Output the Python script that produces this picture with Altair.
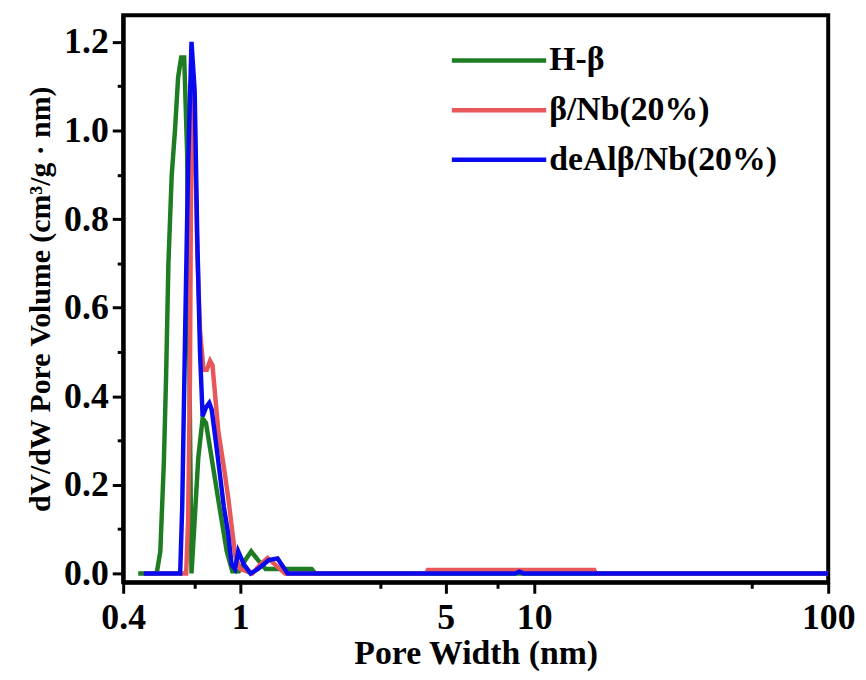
import altair as alt
import pandas as pd

names = ["H-β", "β/Nb(20%)", "deAlβ/Nb(20%)"]
colors = ["#1e7d22", "#e8575a", "#0a0aee"]

h_w = [0.45, 0.52, 0.535, 0.55, 0.56, 0.57, 0.585, 0.60, 0.615, 0.63, 0.645, 0.66, 0.67, 0.683,
       0.70, 0.72, 0.745, 0.765, 0.80, 0.85, 0.90, 0.94, 0.99, 1.04, 1.09, 1.15, 1.22, 1.75, 1.8, 100]
h_v = [0.0, 0.0, 0.05, 0.25, 0.45, 0.70, 0.90, 1.0, 1.12, 1.165, 1.165, 0.95, 0.55, 0.0,
       0.12, 0.26, 0.35, 0.34, 0.26, 0.15, 0.05, 0.005, 0.005, 0.03, 0.05, 0.03, 0.01, 0.01, 0.0, 0.0]

r_w = [0.47, 0.655, 0.665, 0.675, 0.683, 0.70, 0.715, 0.73, 0.75, 0.77, 0.79, 0.805, 0.843, 0.88,
       0.911, 0.962, 1.0, 1.1, 1.17, 1.24, 1.42, 4.3, 4.35, 16.0, 16.2, 100]
r_v = [0.0, 0.0, 0.12, 0.45, 1.1, 1.0, 0.72, 0.55, 0.46, 0.46, 0.48, 0.47, 0.32, 0.24,
       0.17, 0.04, 0.01, 0.0, 0.02, 0.035, 0.0, 0.0, 0.008, 0.008, 0.0, 0.0]

b_w = [0.47, 0.625, 0.635, 0.65, 0.665, 0.683, 0.70, 0.715, 0.73, 0.745, 0.765, 0.785, 0.80, 0.84,
       0.88, 0.91, 0.935, 0.96, 0.985, 1.03, 1.085, 1.15, 1.25, 1.34, 1.45, 8.6, 8.9, 9.2, 100]
b_v = [0.0, 0.0, 0.15, 0.55, 0.92, 1.2, 1.09, 0.75, 0.5, 0.355, 0.375, 0.385, 0.37, 0.26,
       0.15, 0.09, 0.02, 0.01, 0.05, 0.02, 0.0, 0.01, 0.03, 0.034, 0.0, 0.0, 0.004, 0.0, 0.0]

x_ticks = [0.4, 0.7, 1, 3, 5, 7.5, 10, 55, 100]
x_labels = [0.4, 1, 5, 10, 100]
y_ticks = [round(i * 0.1, 1) for i in range(13)]

frames = []
for name, ws, vs in zip(names, [h_w, r_w, b_w], [h_v, r_v, b_v]):
    frames.append(pd.DataFrame({"w": ws, "v": vs, "s": name}))
df = pd.concat(frames, ignore_index=True)

FONT = "Times New Roman, Liberation Serif, serif"

lbl_test = " || ".join(f"datum.value == {v}" for v in x_labels)

x_enc = alt.X(
    "w:Q",
    scale=alt.Scale(type="log", domain=[0.4, 100], nice=False),
    axis=alt.Axis(
        values=x_ticks,
        labelExpr=f"({lbl_test}) ? datum.label : ''",
        tickSize={"condition": {"test": lbl_test, "value": 11}, "value": 6},
        title="Pore Width (nm)",
        grid=False,
        labelFlush=False,
        labelOverlap=False,
    ),
)
y_test = "round(datum.value * 10) % 2 == 0"
y_enc = alt.Y(
    "v:Q",
    scale=alt.Scale(domain=[-0.02, 1.26], nice=False, zero=False),
    axis=alt.Axis(
        values=y_ticks,
        labelExpr=f"{y_test} ? format(datum.value, '.1f') : ''",
        tickSize={"condition": {"test": y_test, "value": 11}, "value": 6},
        title="dV/dW Pore Volume (cm³/g · nm)",
        grid=False,
        labelOverlap=False,
    ),
)
color_enc = alt.Color(
    "s:N",
    scale=alt.Scale(domain=names, range=colors),
    sort=names,
    legend=alt.Legend(
        orient="none",
        legendX=351,
        legendY=18,
        title=None,
        symbolType="M-1.9,0H1.9",
        symbolSize=2500,
        symbolStrokeWidth=4.5,
        labelFont=FONT,
        labelFontSize=34,
        labelFontWeight="bold",
        labelColor="black",
        labelOffset=23,
        labelLimit=400,
        rowPadding=5,
        padding=0,
    ),
)

layers = []
for name in names:
    layers.append(
        alt.Chart(df)
        .transform_filter(alt.datum.s == name)
        .mark_line(strokeWidth=4.5, clip=True)
        .encode(x=x_enc, y=y_enc, color=color_enc)
    )

chart = (
    alt.layer(*layers)
    .properties(
        width=710,
        height=571,
        autosize=alt.AutoSizeParams(type="none"),
        padding={"left": 116, "top": 5, "right": 30, "bottom": 96},
    )
    .configure_view(stroke="black", strokeWidth=4)
    .configure_axis(
        domainColor="black",
        domainWidth=4,
        tickColor="black",
        tickWidth=3,
        labelFont=FONT,
        labelFontSize=36,
        labelFontWeight="bold",
        labelColor="black",
        titleFont=FONT,
        titleFontSize=34,
        titleFontWeight="bold",
        titleColor="black",
    )
    .configure_axisX(labelPadding=8, titlePadding=1)
    .configure_axisY(labelPadding=4, titlePadding=8, titleFontSize=30)
)

chart.save("out.html", embed_options={"renderer": "svg", "actions": False})
